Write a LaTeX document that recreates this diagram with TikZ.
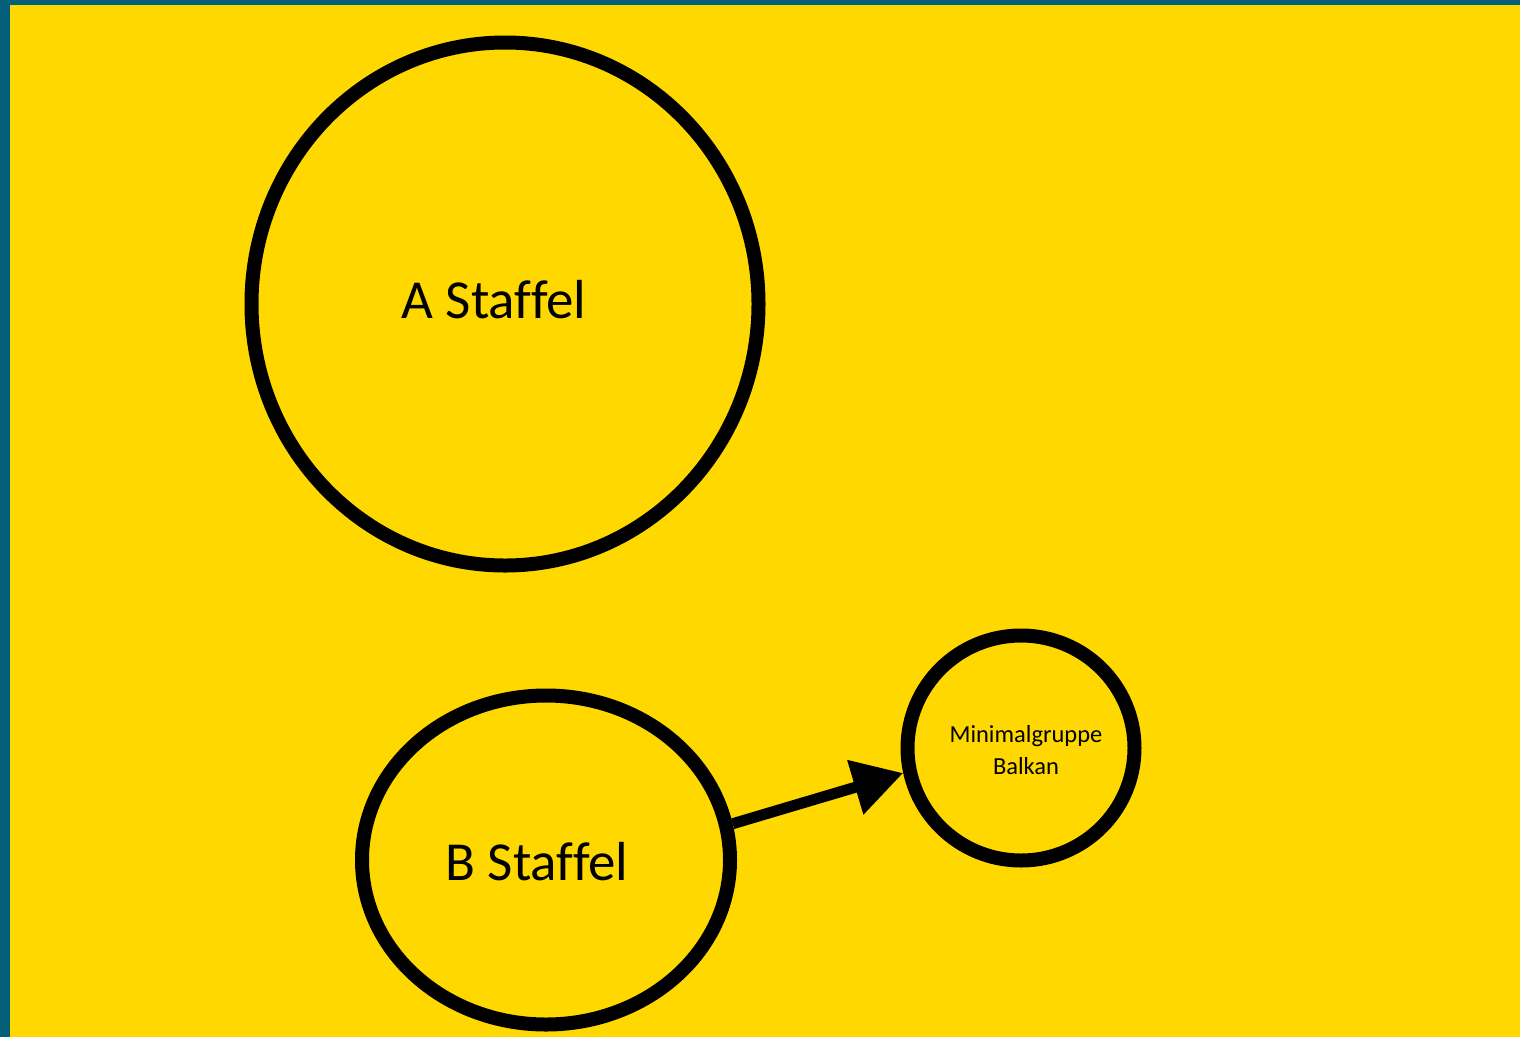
\documentclass[tikz,border=0pt]{standalone}
\usepackage{fontspec}
\setmainfont{Carlito}[Ligatures=NoCommon]
\usetikzlibrary{shapes.geometric,arrows.meta}
\definecolor{frame}{RGB}{4,96,122}
\definecolor{bg}{RGB}{255,216,0}
\begin{document}
\begin{tikzpicture}[x=1pt,y=-1pt,
  ring/.style={ellipse,draw=black,line width=14pt,inner sep=0pt,fill=none,text=black},
  link/.style={line width=11pt,-{Triangle[length=50pt,width=54pt]}}]
\useasboundingbox (0,0) rectangle (1520,1037);
\fill[frame] (0,0) rectangle (1520,1037);
\fill[bg] (10,5) rectangle (1520,1037);
\node[ring,minimum width=507pt,minimum height=523pt] (A) at (505,304) {};
\node[font=\fontsize{55}{60}\selectfont] (At) at (494,300) {A Staffel};
\node[ring,minimum width=368pt,minimum height=329pt] (B) at (546,860) {};
\node[font=\fontsize{55}{60}\selectfont] (Bt) at (537,862) {B Staffel};
\node[ring,minimum width=227pt,minimum height=225pt] (C) at (1021,748) {};
\node[font=\fontsize{24.5}{32}\selectfont,align=center] (Ct) at (1026,750) {Minimalgruppe\\Balkan};
\draw[link] (B.11) -- (C.192);
\end{tikzpicture}
\end{document}
